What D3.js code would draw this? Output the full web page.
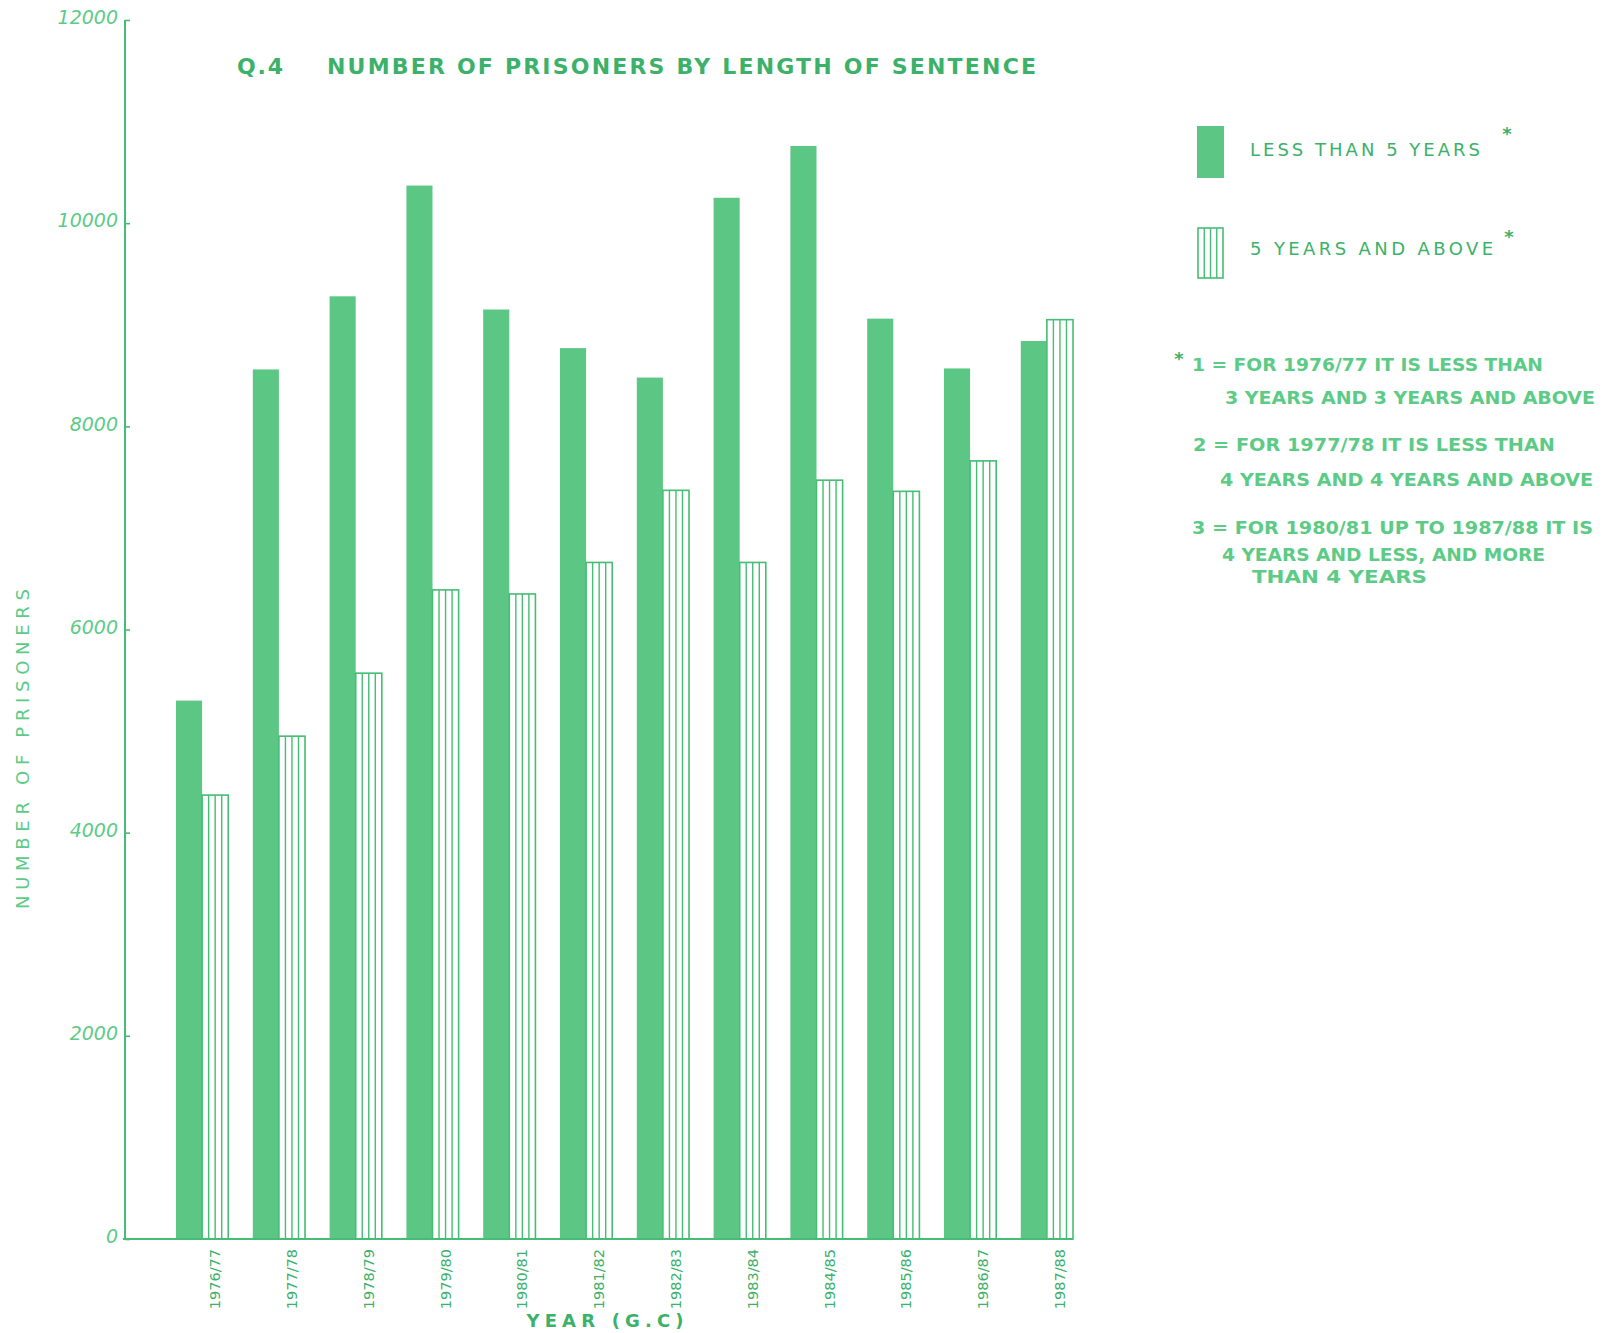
<!DOCTYPE html>
<html>
<head>
<meta charset="utf-8">
<script src="https://cdn.jsdelivr.net/npm/d3@7"></script>
<style>
  html, body { margin: 0; padding: 0; background: #ffffff; }
  svg { display: block; }
  text { font-family: "DejaVu Sans", "Liberation Sans", sans-serif; }
</style>
</head>
<body>
<svg id="chart" width="1605" height="1333"></svg>
<script>
// ---- data ----
const years = ["1976/77","1977/78","1978/79","1979/80","1980/81","1981/82",
               "1982/83","1983/84","1984/85","1985/86","1986/87","1987/88"];
const lessThan5    = [5300, 8560, 9280, 10370, 9150, 8770, 8480, 10250, 10760, 9060, 8570, 8840];
const fiveAndAbove = [4370, 4950, 5570, 6390, 6350, 6660, 7370, 6660, 7470, 7360, 7660, 9050];
const seriesKeys = ["less", "more"];
const yTicks = [0, 2000, 4000, 6000, 8000, 10000, 12000];
const legendLabels = ["LESS THAN 5 YEARS", "5 YEARS AND ABOVE"];
const footnotes = [
  "1 = FOR 1976/77   IT IS LESS THAN",
  "3 YEARS AND 3 YEARS AND ABOVE",
  "2 = FOR 1977/78 IT IS LESS THAN",
  "4 YEARS AND  4 YEARS AND  ABOVE",
  "3 = FOR 1980/81 UP TO 1987/88 IT IS",
  "4 YEARS AND LESS, AND MORE",
  "THAN  4 YEARS"
];
const titleText = "NUMBER OF  PRISONERS BY  LENGTH OF  SENTENCE";

// ---- styles ----
const barFill = "#5cc784";
const lineCol = "#45bd74";
const textDark = "#3bb169";
const textLight = "#5ccb86";

const svg = d3.select("#chart");

const y = d3.scaleLinear().domain([0, 12000]).range([1239, 20]);
const x = d3.scaleBand().domain(years).range([176, 1073]).paddingInner(0.32).paddingOuter(0);
const xs = d3.scaleBand().domain(seriesKeys).range([0, x.bandwidth()]);

const data = years.map((yr, i) => ({ year: yr, less: lessThan5[i], more: fiveAndAbove[i] }));

// ---- bars ----
const g = svg.append("g");
g.selectAll("rect.less").data(data).join("rect")
  .attr("class", "less")
  .attr("x", d => x(d.year) + xs("less"))
  .attr("y", d => y(d.less))
  .attr("width", xs.bandwidth())
  .attr("height", d => y(0) - y(d.less))
  .attr("fill", barFill);

const hatched = g.selectAll("g.more").data(data).join("g").attr("class", "more");
hatched.append("rect")
  .attr("x", d => x(d.year) + xs("more"))
  .attr("y", d => y(d.more))
  .attr("width", xs.bandwidth())
  .attr("height", d => y(0) - y(d.more))
  .attr("fill", "#ffffff")
  .attr("stroke", lineCol)
  .attr("stroke-width", 1.6);
hatched.each(function(d) {
  const sel = d3.select(this);
  [1, 2, 3].forEach(k => {
    const xx = x(d.year) + xs("more") + xs.bandwidth() * k / 4;
    sel.append("line")
      .attr("x1", xx).attr("x2", xx)
      .attr("y1", y(d.more)).attr("y2", y(0))
      .attr("stroke", lineCol).attr("stroke-width", 1.4);
  });
});

// ---- y axis ----
const yAxis = svg.append("g").attr("transform", "translate(125,0)")
  .call(d3.axisLeft(y).tickValues(yTicks).tickSize(-5).tickPadding(7).tickFormat(d3.format("d")));
yAxis.select(".domain").attr("stroke", lineCol).attr("stroke-width", 2).attr("d", `M0,${y(12000)}V${y(0)}`);
yAxis.selectAll(".tick line").attr("stroke", lineCol).attr("stroke-width", 1.6);
yAxis.selectAll(".tick text")
  .attr("fill", textLight)
  .style("font-size", "19px")
  .style("font-style", "italic")
  .attr("dy", "0.2em");

// ---- x axis ----
const xAxis = svg.append("g").attr("transform", `translate(0,${y(0)})`)
  .call(d3.axisBottom(x).tickSize(0));
xAxis.select(".domain").attr("stroke", lineCol).attr("stroke-width", 2).attr("d", "M123,0H1073");
xAxis.selectAll(".tick text")
  .attr("fill", textDark)
  .style("font-size", "14.5px")
  .attr("text-anchor", "end")
  .attr("transform", "rotate(-90)")
  .attr("x", -10)
  .attr("y", 13)
  .attr("dy", "0.35em");

// ---- axis titles ----
svg.append("text")
  .attr("x", 605).attr("y", 1327)
  .attr("text-anchor", "middle")
  .attr("fill", textDark)
  .style("font-size", "18px").style("font-weight", "bold")
  .attr("textLength", 157).attr("lengthAdjust", "spacing")
  .text("YEAR (G.C)");

svg.append("text")
  .attr("transform", "translate(29,749) rotate(-90)")
  .attr("text-anchor", "middle")
  .attr("fill", textLight)
  .style("font-size", "18px")
  .attr("textLength", 320).attr("lengthAdjust", "spacing")
  .text("NUMBER   OF   PRISONERS");

// ---- title ----
svg.append("text")
  .attr("x", 237).attr("y", 74)
  .attr("fill", textDark)
  .style("font-size", "22px").style("font-weight", "bold")
  .attr("textLength", 46).attr("lengthAdjust", "spacing")
  .text("Q.4");
svg.append("text")
  .attr("x", 327).attr("y", 74)
  .attr("fill", textDark)
  .style("font-size", "22px").style("font-weight", "bold")
  .attr("textLength", 709).attr("lengthAdjust", "spacing")
  .text(titleText);

// ---- legend ----
const leg = svg.append("g");
leg.append("rect").attr("x", 1197).attr("y", 126).attr("width", 27).attr("height", 52).attr("fill", barFill);
leg.append("rect").attr("x", 1198).attr("y", 228).attr("width", 25).attr("height", 50)
  .attr("fill", "#fff").attr("stroke", lineCol).attr("stroke-width", 1.6);
[1, 2, 3].forEach(k => {
  const xx = 1198 + 25 * k / 4;
  leg.append("line").attr("x1", xx).attr("x2", xx).attr("y1", 228).attr("y2", 278)
    .attr("stroke", lineCol).attr("stroke-width", 1.4);
});
leg.append("text").attr("x", 1250).attr("y", 156).attr("fill", textDark)
  .style("font-size", "18px").attr("textLength", 230).attr("lengthAdjust", "spacing")
  .text(legendLabels[0]);
leg.append("text").attr("x", 1250).attr("y", 255).attr("fill", textDark)
  .style("font-size", "18px").attr("textLength", 243).attr("lengthAdjust", "spacing")
  .text(legendLabels[1]);
leg.append("text").attr("x", 1507).attr("y", 140).attr("text-anchor", "middle").attr("fill", textDark)
  .style("font-size", "18px").style("font-weight", "bold").text("*");
leg.append("text").attr("x", 1509).attr("y", 243).attr("text-anchor", "middle").attr("fill", textDark)
  .style("font-size", "18px").style("font-weight", "bold").text("*");

// ---- footnotes ----
const fnX = [1192, 1225, 1193, 1220, 1192, 1222, 1252];
const fnY = [371, 404, 451, 486, 534, 561, 583];
const fnW = [351, 370, 362, 373, 401, 323, 175];
const fn = svg.append("g");
footnotes.forEach((t, i) => {
  fn.append("text")
    .attr("x", fnX[i]).attr("y", fnY[i])
    .attr("fill", textLight)
    .style("font-size", "17px").style("font-weight", "bold")
    .attr("textLength", fnW[i]).attr("lengthAdjust", "spacingAndGlyphs")
    .text(t);
});
fn.append("text").attr("x", 1179).attr("y", 365).attr("text-anchor", "middle").attr("fill", textDark)
  .style("font-size", "18px").style("font-weight", "bold").text("*");
</script>
</body>
</html>
